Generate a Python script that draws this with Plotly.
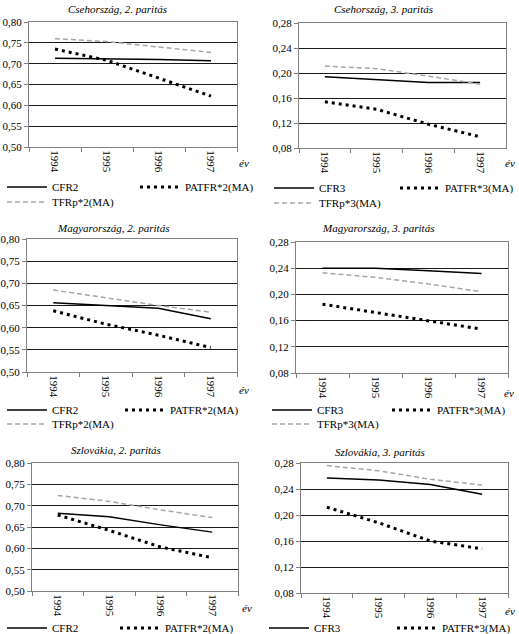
import plotly.graph_objects as go

W, H = 519, 634

years = ["1994", "1995", "1996", "1997"]

titles = [
    "Csehország, 2. paritás", "Csehország, 3. paritás",
    "Magyarország, 2. paritás", "Magyarország, 3. paritás",
    "Szlovákia, 2. paritás", "Szlovákia, 3. paritás",
]

# Csehország
cz_cfr2 = [0.713, 0.712, 0.710, 0.707]
cz_patfr2 = [0.735, 0.708, 0.665, 0.622]
cz_tfrp2 = [0.760, 0.753, 0.740, 0.727]
cz_cfr3 = [0.194, 0.189, 0.185, 0.185]
cz_patfr3 = [0.154, 0.142, 0.118, 0.098]
cz_tfrp3 = [0.211, 0.207, 0.195, 0.182]
# Magyarország
hu_cfr2 = [0.656, 0.650, 0.644, 0.620]
hu_patfr2 = [0.638, 0.608, 0.583, 0.555]
hu_tfrp2 = [0.685, 0.668, 0.650, 0.635]
hu_cfr3 = [0.240, 0.240, 0.236, 0.232]
hu_patfr3 = [0.185, 0.172, 0.160, 0.147]
hu_tfrp3 = [0.233, 0.226, 0.216, 0.204]
# Szlovákia
sk_cfr2 = [0.682, 0.674, 0.655, 0.638]
sk_patfr2 = [0.678, 0.642, 0.603, 0.578]
sk_tfrp2 = [0.724, 0.710, 0.690, 0.672]
sk_cfr3 = [0.257, 0.254, 0.247, 0.232]
sk_patfr3 = [0.212, 0.188, 0.160, 0.148]
sk_tfrp3 = [0.276, 0.268, 0.255, 0.246]

series = [
    (cz_cfr2, cz_patfr2, cz_tfrp2, 2),
    (cz_cfr3, cz_patfr3, cz_tfrp3, 3),
    (hu_cfr2, hu_patfr2, hu_tfrp2, 2),
    (hu_cfr3, hu_patfr3, hu_tfrp3, 3),
    (sk_cfr2, sk_patfr2, sk_tfrp2, 2),
    (sk_cfr3, sk_patfr3, sk_tfrp3, 3),
]

# layout in pixels: (x0, x1, ytop, ybottom)
boxes = [
    (29, 237, 22, 147), (299, 506, 23, 148),
    (27, 237, 239, 372), (296, 508, 242, 373),
    (32, 238, 463, 591), (301, 508, 463, 593),
]
title_pos = [(117, 9), (383, 9), (113, 228), (378, 228), (116, 450), (380, 452)]
ev_pos = [(244, 163), (510, 163), (244, 390), (509, 393), (247, 608), (510, 611)]
# legend item positions (pixels): col1 x, col2 x, row1 y, row2 y
leg_cols = [(2, 135), (269, 395), (2, 120), (267, 387), (2, 115), (264, 392)]
leg_rows = [(187, 202), (188, 203), (410, 424), (410, 424), (628, None), (628, None)]

FONT = "Liberation Serif, Times New Roman, DejaVu Serif, serif"

def px(x):
    return x / W

def py(y):
    return 1 - y / H

fig = go.Figure()
layout = dict(
    width=W, height=H, margin=dict(l=0, r=0, t=0, b=0, autoexpand=False),
    paper_bgcolor="white", plot_bgcolor="white",
    separators=", ", showlegend=True,
    font=dict(family=FONT, size=11, color="black"),
    annotations=[],
)

leg_common = dict(orientation="v", xanchor="left", yanchor="middle",
                  bgcolor="rgba(0,0,0,0)", itemwidth=40,
                  font=dict(family=FONT, size=11), itemclick=False,
                  itemdoubleclick=False)

lg_count = 0

def new_legend(x, y):
    global lg_count
    lg_count += 1
    name = "legend" if lg_count == 1 else f"legend{lg_count}"
    layout[name] = dict(x=px(x), y=py(y), **leg_common)
    return name

for i, (cfr, patfr, tfrp, par) in enumerate(series):
    n = i + 1
    xa = "x" if n == 1 else f"x{n}"
    ya = "y" if n == 1 else f"y{n}"
    c1, c2 = leg_cols[i]
    r1, r2 = leg_rows[i]

    fig.add_trace(go.Scatter(
        x=years, y=cfr, mode="lines", name=f"CFR{par}", xaxis=xa, yaxis=ya,
        line=dict(color="black", width=1.5), legend=new_legend(c1, r1)))
    fig.add_trace(go.Scatter(
        x=years, y=patfr, mode="lines", name=f"PATFR*{par}(MA)", xaxis=xa, yaxis=ya,
        line=dict(color="black", width=3, dash="3px,4px"), legend=new_legend(c2, r1)))
    if r2 is not None:
        fig.add_trace(go.Scatter(
            x=years, y=tfrp, mode="lines", name=f"TFRp*{par}(MA)", xaxis=xa, yaxis=ya,
            line=dict(color="#a6a6a6", width=1.5, dash="5px,3px"),
            legend=new_legend(c1, r2)))
    else:
        # legend row falls below the visible page in the reference
        fig.add_trace(go.Scatter(
            x=years, y=tfrp, mode="lines", name=f"TFRp*{par}(MA)", xaxis=xa, yaxis=ya,
            line=dict(color="#a6a6a6", width=1.5, dash="5px,3px"), showlegend=False))

    x0, x1, yt, yb = boxes[i]
    if par == 2:
        yr, dt = [0.50, 0.80], 0.05
    else:
        yr, dt = [0.08, 0.28], 0.04
    layout["xaxis" if n == 1 else f"xaxis{n}"] = dict(
        domain=[px(x0), px(x1)], anchor=ya, type="category",
        tickson="boundaries", ticks="outside", ticklen=4, tickcolor="#808080",
        tickangle=90, showgrid=False, showline=True, linecolor="#808080",
        linewidth=1, mirror=True, range=[-0.5, 3.5], automargin=False,
        tickfont=dict(family=FONT, size=11))
    layout["yaxis" if n == 1 else f"yaxis{n}"] = dict(
        domain=[py(yb), py(yt)], anchor=xa, range=yr, dtick=dt,
        tickformat=".2f", ticks="outside", ticklen=4, tickcolor="#808080",
        showgrid=True, gridcolor="#1a1a1a", gridwidth=1, automargin=False,
        showline=True, linecolor="#808080", linewidth=1, mirror=True,
        zeroline=False, tickfont=dict(family=FONT, size=11))

    tx, ty = title_pos[i]
    layout["annotations"].append(dict(
        text=f"<i>{titles[i]}</i>", x=px(tx), y=py(ty), xref="paper", yref="paper",
        showarrow=False, xanchor="center", yanchor="middle",
        font=dict(family=FONT, size=11)))
    ex, ey = ev_pos[i]
    layout["annotations"].append(dict(
        text="<i>év</i>", x=px(ex), y=py(ey), xref="paper", yref="paper",
        showarrow=False, xanchor="center", yanchor="middle",
        font=dict(family=FONT, size=11)))

fig.update_layout(**layout)
fig.write_html(
    "out.html",
    config={"displayModeBar": False},
    post_script="document.body.style.margin='0';document.body.style.overflow='hidden';",
)
